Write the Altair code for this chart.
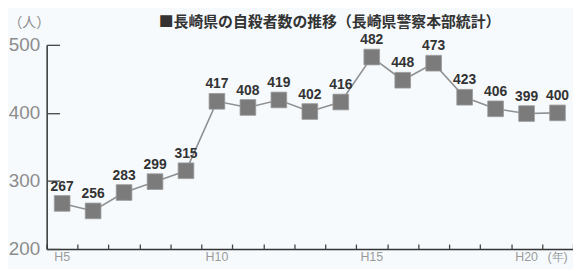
import altair as alt
import pandas as pd

years = ["H5", "H6", "H7", "H8", "H9", "H10", "H11", "H12", "H13", "H14",
         "H15", "H16", "H17", "H18", "H19", "H20", "H21"]
values = [267, 256, 283, 299, 315, 417, 408, 419, 402, 416,
          482, 448, 473, 423, 406, 399, 400]
shown_labels = {"H5": "H5", "H10": "H10", "H15": "H15", "H20": "H20", "H21": "(年)"}
y_ticks = [200, 300, 400, 500]
title_text = "■長崎県の自殺者数の推移（長崎県警察本部統計）"
y_unit = "（人）"

df = pd.DataFrame({"year": years, "value": values})

W, H = 531, 206

label_expr = " : ".join(
    [f"datum.value == '{k}' ? '{v}'" for k, v in shown_labels.items()] + ["''"]
)

xscale = alt.Scale(type="band", paddingInner=0, paddingOuter=0, domain=years)
yscale = alt.Scale(domain=[200, 500], nice=False, zero=False)

base = alt.Chart(df)

line = base.mark_line(color="#909090", strokeWidth=1.6).encode(
    x=alt.X("year:N", sort=years, scale=xscale,
            axis=alt.Axis(title=None, ticks=False, labelExpr=label_expr,
                          labelAngle=0, labelFont="Liberation Sans", labelFontSize=12.5,
                          labelColor="#9a9a9a", labelPadding=2, labelOverlap=False,
                          domainColor="#333333", domainWidth=1.5)),
    y=alt.Y("value:Q", scale=yscale,
            axis=alt.Axis(values=y_ticks, ticks=False, grid=False,
                          labelFont="Liberation Sans", labelFontSize=19,
                          labelColor="#8c8c8c", labelPadding=7,
                          domainColor="#333333", domainWidth=1.5,
                          title=y_unit, titleAngle=0, titleX=-39, titleY=-22,
                          titleAlign="left", titleBaseline="middle",
                          titleFont="Noto Sans CJK JP", titleFontSize=14,
                          titleFontWeight="normal", titleColor="#8c8c8c")),
)

points = base.mark_square(size=250, color="#7b7b7b", opacity=1,
                          stroke="#9a9a9a", strokeWidth=0.8).encode(
    x=alt.X("year:N", sort=years, scale=xscale,
            axis=alt.Axis(orient="top", offset=-H, labels=False, domain=False,
                          ticks=True, tickBand="extent", tickSize=5,
                          tickColor="#444444", tickWidth=1.3, title=None)),
    y=alt.Y("value:Q", scale=yscale,
            axis=alt.Axis(orient="right", offset=-W, values=y_ticks, labels=False,
                          domain=False, ticks=True, tickSize=13, tickColor="#444444",
                          tickWidth=1.3, grid=False, title=None)),
)

labels = base.mark_text(dy=-17, fontSize=14, fontWeight="bold", color="#333333",
                        font="Liberation Sans").encode(
    x=alt.X("year:N", sort=years, scale=xscale, axis=None),
    y=alt.Y("value:Q", scale=yscale, axis=None),
    text="value:Q",
)

chart = alt.layer(line, points, labels).resolve_axis(
    x="independent", y="independent"
).properties(
    width=W, height=H,
    autosize=alt.AutoSizeParams(type="none"),
    padding={"left": 39, "top": 36, "right": 0, "bottom": 19},
    background="#f6fafd",
    title=alt.TitleParams(title_text, anchor="start", frame="group", dx=113,
                          offset=-14, font="Noto Sans CJK JP", fontSize=15,
                          fontWeight="bold", color="#333333"),
).configure_view(stroke=None)

chart.save("out.html", embed_options={"renderer": "svg", "actions": False})
